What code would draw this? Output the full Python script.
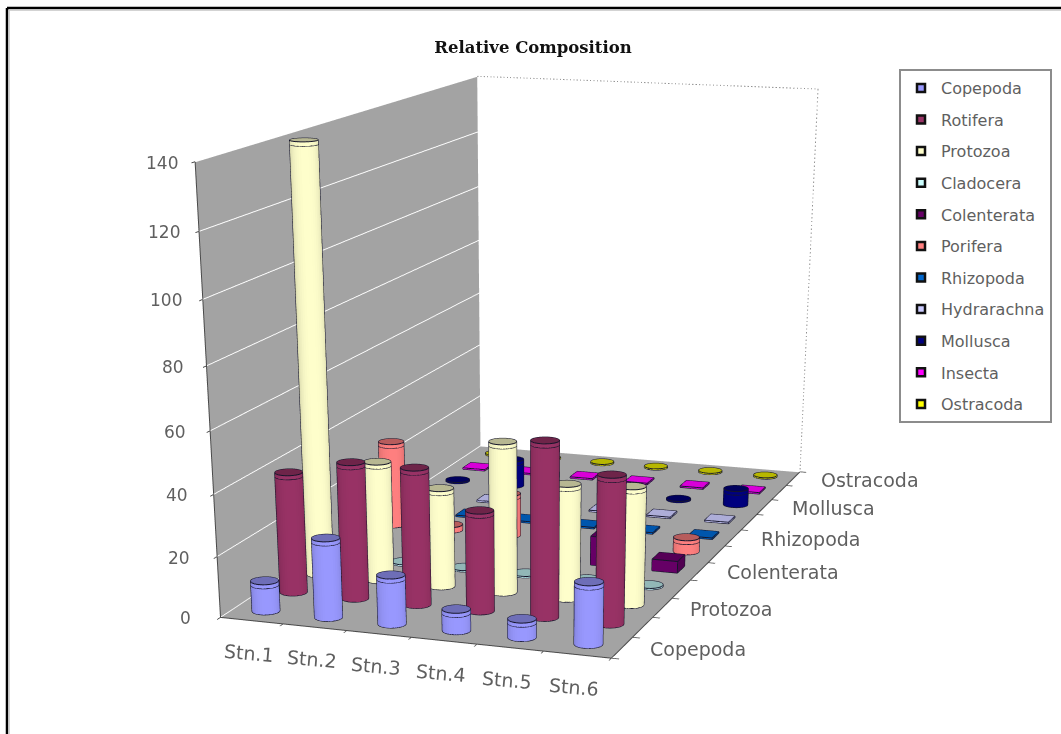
import numpy as np, plotly.graph_objects as go

stations = ["Stn.1","Stn.2","Stn.3","Stn.4","Stn.5","Stn.6"]
taxa = ["Copepoda","Rotifera","Protozoa","Cladocera","Colenterata","Porifera","Rhizopoda","Hydrarachna","Mollusca","Insecta","Ostracoda"]
z_ticks = [0,20,40,60,80,100,120,140]
copepoda    = [10, 26, 16, 7, 6, 20]
rotifera    = [40, 45, 45, 33, 57, 48]
protozoa    = [140, 40, 33, 50, 38, 39]
cladocera   = [0.5, 0.5, 0.5, 0.5, 0.5, 0.5]
colenterata = [0, 0, 0, 0, 10, 4]
porifera    = [30, 2, 15, 0, 0, 5]
rhizopoda   = [0.5, 0.5, 0.5, 0.5, 0.5, 0.5]
hydrarachna = [0.5, 0.5, 0.5, 0.5, 0.5, 0.5]
mollusca    = [0.5, 10, 0.5, 0.5, 0.5, 6]
insecta     = [0.5, 0.5, 0.5, 0.5, 0.5, 0.5]
ostracoda   = [0.5, 0.5, 0.5, 0.5, 0.5, 0.5]
series = [copepoda,rotifera,protozoa,cladocera,colenterata,porifera,rhizopoda,hydrarachna,mollusca,insecta,ostracoda]
colors = ["#9999FF","#993366","#FFFFCC","#CCFFFF","#660066","#FF8080","#0066CC","#CCCCFF","#000080","#FF00FF","#FFFF00"]
shapes_ = ["c","c","c","c","b","c","b","b","c","b","c"]

# camera fitted to the reference's perspective; the scene canvas is taller than the window to get its long lens
W=1061; FH=2145; K=0.5
e=np.array([2.0771,-6.1461,1.2632]); c=np.array([0.2622,-0.8214,-1.5873]); ax,ay,az=0.9436,1.7691,1.0

rx=0.205; R=rx*(2*ax*K/6); ry=R/(2*ay*K/11)
def py(y): return 1-y/FH
def hexmul(col,f):
    v=[int(col[i:i+2],16) for i in (1,3,5)]
    return "#%02x%02x%02x"%tuple(int(min(255,x*f)) for x in v)
fig=go.Figure()
n=36
for k,(vals,col,sh,name) in enumerate(zip(series,colors,shapes_,taxa)):
    X=[];Y=[];Z=[];I=[];J_=[];K_=[];FC=[]
    LX=[];LY=[];LZ=[]
    for i,v in enumerate(vals):
        if v<=0: continue
        x0=i+0.5;y0=k+0.5;b=len(X)
        if sh=="c":
            th=np.linspace(0,2*np.pi,n,endpoint=False)
            wx=(x0/6*2-1)*ax*K;wy=(y0/11*2-1)*ay*K
            view=np.arctan2(e[1]-wy,e[0]-wx)
            for zz in (0,v):
                X+=list(x0+rx*np.cos(th));Y+=list(y0+ry*np.sin(th));Z+=[zz]*n
            X.append(x0);Y.append(y0);Z.append(v);ctr=b+2*n
            for m in range(n):
                m2=(m+1)%n
                sh_f=0.78+0.22*max(0,np.cos(th[m]-view))**0.6
                I+=[b+m,b+m];J_+=[b+m2,b+n+m2];K_+=[b+n+m2,b+n+m];FC+=[hexmul(col,sh_f)]*2
                I.append(ctr);J_.append(b+n+m);K_.append(b+n+m2);FC.append(hexmul(col,0.72))
            t=np.append(th,th[0]);LX+=list(x0+rx*np.cos(t))+[None];LY+=list(y0+ry*np.sin(t))+[None];LZ+=[v]*(n+1)+[None]
            t=np.linspace(view-np.pi/2,view+np.pi/2,20)
            LX+=list(x0+rx*np.cos(t))+[None];LY+=list(y0+ry*np.sin(t))+[None];LZ+=[0.05]*20+[None]
            if v>3:
                LX+=list(x0+rx*np.cos(t))+[None];LY+=list(y0+ry*np.sin(t))+[None];LZ+=[v-1.3]*20+[None]
            for sgn in (-1,1):
                a_=view+sgn*np.pi/2
                LX+=[x0+rx*np.cos(a_)]*2+[None];LY+=[y0+ry*np.sin(a_)]*2+[None];LZ+=[0,v,None]
        else:
            cx_=[-1,1,1,-1];cy_=[-1,-1,1,1]
            for zz in (0,v):
                X+=[x0+rx*q for q in cx_];Y+=[y0+ry*q for q in cy_];Z+=[zz]*4
            quads=[(4,5,6,7,0.85),(0,1,5,4,1.0),(1,2,6,5,0.8),(2,3,7,6,.8),(3,0,4,7,.8)]
            for a_,b_,c_,d_,f_ in quads:
                I+=[b+a_,b+a_];J_+=[b+b_,b+c_];K_+=[b+c_,b+d_];FC+=[hexmul(col,f_)]*2
            px=[x0+rx*q for q in cx_+cx_[:1]];py_=[y0+ry*q for q in cy_+cy_[:1]]
            LX+=px+[None]+px+[None];LY+=py_+[None]+py_+[None];LZ+=[0]*5+[None]+[v]*5+[None]
            for q in (0,1,2):
                LX+=[px[q],px[q],None];LY+=[py_[q],py_[q],None];LZ+=[0,v,None]
    fig.add_trace(go.Mesh3d(x=X,y=Y,z=Z,i=I,j=J_,k=K_,facecolor=FC,flatshading=True,
        lighting=dict(ambient=1,diffuse=0,specular=0,fresnel=0,roughness=1),name=name,hoverinfo="name",showlegend=False))
    fig.add_trace(go.Scatter3d(x=LX,y=LY,z=LZ,mode="lines",line=dict(color="#15152a",width=2),hoverinfo="skip",showlegend=False))
    fig.add_trace(go.Scatter(x=[None],y=[None],mode="markers",name=name,legendgroup=name,
        marker=dict(symbol="square",size=8,color=col,line=dict(color="#111111",width=2.5))))
fig.add_trace(go.Scatter3d(x=[0,6,6],y=[11,11,11],z=[140,140,0],mode="lines",line=dict(color="#909090",width=2,dash="dot"),hoverinfo="skip",showlegend=False))
# floor and wall edges
fig.add_trace(go.Scatter3d(x=[0,0,6,6],y=[0,0,0,11],z=[140,0,0,0],mode="lines",line=dict(color="#4a4a4a",width=2),hoverinfo="skip",showlegend=False))

txt=dict(family="DejaVu Sans",size=19,color="#5f5f5f")
ztxt=dict(family="DejaVu Sans",size=17,color="#5f5f5f")
ann=[]
for i,s in enumerate(stations):
    ann.append(dict(x=i+.5,y=0,z=0,text=s,showarrow=False,xanchor="center",yanchor="middle",xshift=-3,yshift=-32,textangle=5,font=txt))
for j in range(0,11,2):
    ann.append(dict(x=6,y=j+.5,z=0,text=taxa[j],showarrow=False,xanchor="left",yanchor="middle",xshift=26,yshift=-1,font=txt))
for z in z_ticks:
    ann.append(dict(x=0,y=0,z=z,text=str(z),showarrow=False,xanchor="right",yanchor="middle",xshift=-27+12*z/140,yshift=-1,font=ztxt))

axc=dict(title=dict(text=""),showspikes=False,showgrid=False,zeroline=False,showbackground=True,showticklabels=False,
         ticks="outside",ticklen=6,tickwidth=2,tickcolor="#4a4a4a",showline=False)
fig.update_layout(width=W,height=FH,paper_bgcolor="white",plot_bgcolor="rgba(0,0,0,0)",margin=dict(l=0,r=0,t=0,b=0),
  xaxis=dict(visible=False,domain=[0,0.01]),yaxis=dict(visible=False,domain=[0,0.01]),
  title=dict(text="<b>Relative Composition</b>",x=533/1061,y=py(47),xanchor="center",yanchor="middle",xref="paper",yref="paper",
     font=dict(family="DejaVu Serif",size=16.5,color="#111111")),
  legend=dict(x=899/1061,y=py(69),xanchor="left",yanchor="top",bgcolor="white",bordercolor="#8c8c8c",borderwidth=2,entrywidth=127,
     font=dict(family="DejaVu Sans",size=16,color="#5f5f5f"),tracegroupgap=7.8,itemclick=False,itemdoubleclick=False),
  scene=dict(domain=dict(x=[0,1],y=[0,1]),aspectmode="manual",aspectratio=dict(x=ax,y=ay,z=az),bgcolor="rgba(0,0,0,0)",
     camera=dict(eye=dict(x=e[0],y=e[1],z=e[2]),center=dict(x=c[0],y=c[1],z=c[2]),up=dict(x=0,y=0,z=1),projection=dict(type="perspective")),
     annotations=ann,
     xaxis=dict(axc,range=[0,6],tickmode="array",tickvals=list(range(7)),backgroundcolor="#a3a3a3"),
     yaxis=dict(axc,range=[0,11],tickmode="array",tickvals=list(range(12)),backgroundcolor="#ffffff"),
     zaxis=dict(axc,range=[0,140],tickmode="array",tickvals=z_ticks,showgrid=True,gridcolor="#ffffff",gridwidth=2,backgroundcolor="#a3a3a3")),
  shapes=[dict(type="line",xref="paper",yref="paper",x0=0.0066,x1=1.01,y0=py(8),y1=py(8),line=dict(color="#000000",width=2.5)),
          dict(type="line",xref="paper",yref="paper",x0=7/1061,x1=7/1061,y0=py(8),y1=py(745),line=dict(color="#000000",width=2.5)),
          dict(type="line",xref="paper",yref="paper",x0=9/1061,x1=1.01,y0=py(10),y1=py(10),line=dict(color="#c4c4c4",width=1.5)),
          dict(type="line",xref="paper",yref="paper",x0=9/1061,x1=9/1061,y0=py(10),y1=py(745),line=dict(color="#c4c4c4",width=1.5))],
)
fig.write_html("out.html",config=dict(displayModeBar=False),
  post_script="document.body.style.margin='0';document.documentElement.style.overflow='hidden';document.body.style.overflow='hidden';")
